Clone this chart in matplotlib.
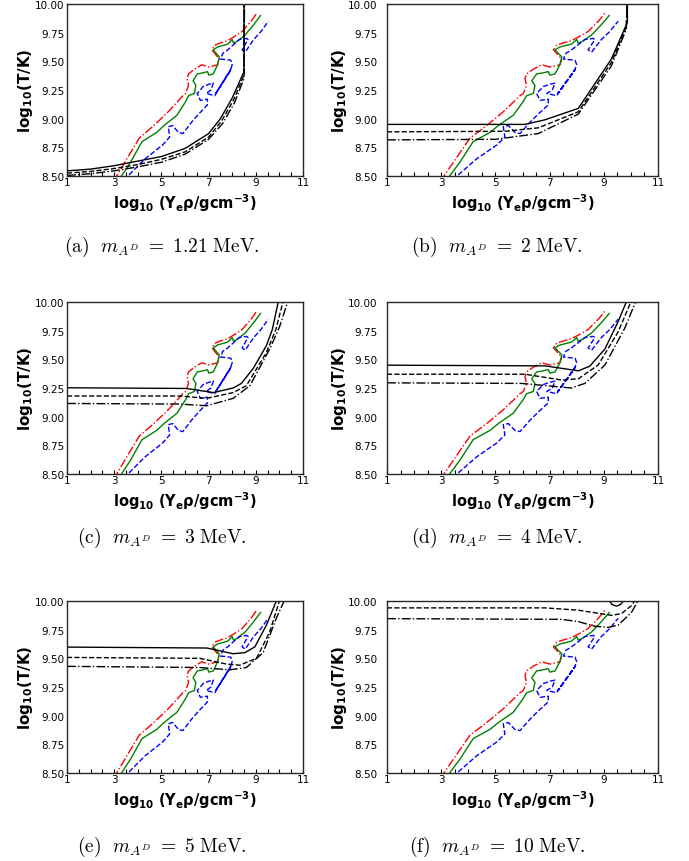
import numpy as np
import matplotlib
matplotlib.use('Agg')
import matplotlib.pyplot as plt

# stellar trajectories (same in every panel)
red_x = [2.96, 3.45, 4.06, 4.68, 5.29, 5.91, 6.03, 6.15, 6.09, 6.15, 6.39, 6.71, 7.01, 7.38, 7.45, 7.14, 7.26, 7.5, 7.8, 8.05, 8.42, 8.8, 9.04]
red_y = [8.45, 8.62, 8.83, 8.94, 9.06, 9.20, 9.22, 9.29, 9.35, 9.39, 9.43, 9.47, 9.45, 9.47, 9.52, 9.60, 9.64, 9.66, 9.68, 9.71, 9.76, 9.85, 9.92]

green_x = [3.15, 3.69, 4.18, 4.80, 5.11, 5.66, 6.03, 6.15, 6.40, 6.46, 6.34, 6.52, 6.77, 6.95, 7.01, 7.2, 7.38, 7.45, 7.32, 7.2, 7.38, 7.81, 8.0, 8.05, 8.18, 8.55, 8.91, 9.2]
green_y = [8.45, 8.62, 8.80, 8.88, 8.94, 9.03, 9.15, 9.20, 9.22, 9.29, 9.33, 9.39, 9.40, 9.41, 9.38, 9.39, 9.47, 9.54, 9.57, 9.60, 9.625, 9.65, 9.69, 9.66, 9.67, 9.73, 9.82, 9.90]

blue_x = [3.63, 4.31, 5.05, 5.35, 5.29, 5.48, 5.72, 5.91, 6.28, 6.58, 6.95, 6.95, 6.65, 6.52, 6.77, 7.01, 7.2, 7.1, 6.9, 7.26, 7.94, 7.3, 7.9, 8.0, 7.94, 7.51, 7.6, 7.81, 8.3, 8.61, 8.67, 8.42, 8.55, 8.91, 9.22, 9.53]
blue_y = [8.51, 8.65, 8.77, 8.84, 8.93, 8.94, 8.88, 8.87, 8.97, 9.04, 9.12, 9.17, 9.16, 9.22, 9.28, 9.30, 9.31, 9.25, 9.22, 9.20, 9.43, 9.22, 9.41, 9.47, 9.51, 9.52, 9.57, 9.60, 9.69, 9.70, 9.69, 9.60, 9.58, 9.69, 9.76, 9.85]

# black curves, one set per panel
a_solid_x = [1, 2, 3, 4, 5, 6, 7, 7.5, 8, 8.5, 8.5]
a_solid_y = [8.545, 8.56, 8.59, 8.63, 8.67, 8.74, 8.87, 9.0, 9.18, 9.41, 10.0]
a_dash_x = [1, 2, 3, 4, 5, 6, 7, 7.55, 8.05, 8.5, 8.51]
a_dash_y = [8.525, 8.54, 8.565, 8.60, 8.645, 8.71, 8.84, 8.98, 9.16, 9.38, 10.0]
a_dd_x = [1, 2, 3, 4, 5, 6, 7, 7.6, 8.1, 8.5, 8.52]
a_dd_y = [8.505, 8.52, 8.545, 8.58, 8.62, 8.69, 8.82, 8.96, 9.14, 9.35, 10.0]

b_solid_x = [1, 6.09, 6.83, 8.06, 9.28, 9.87, 9.87]
b_solid_y = [8.95, 8.95, 8.99, 9.09, 9.52, 9.84, 10.0]
b_dash_x = [1, 5.36, 6.58, 8.06, 9.28, 9.83, 9.86]
b_dash_y = [8.885, 8.89, 8.92, 9.06, 9.49, 9.80, 10.0]
b_dd_x = [1, 5.0, 6.58, 8.06, 9.28, 9.83, 9.86]
b_dd_y = [8.815, 8.82, 8.87, 9.04, 9.46, 9.78, 10.0]

c_solid_x = [1, 6.07, 7.2, 8.04, 8.39, 8.89, 9.45, 9.7, 9.95]
c_solid_y = [9.252, 9.246, 9.21, 9.25, 9.29, 9.42, 9.62, 9.76, 10.0]
c_dash_x = [1, 5.79, 6.92, 8.04, 8.6, 9.45, 9.85, 10.15]
c_dash_y = [9.18, 9.18, 9.16, 9.21, 9.27, 9.56, 9.76, 10.0]
c_dd_x = [1, 5.79, 6.92, 8.04, 8.75, 9.59, 10.0, 10.35]
c_dd_y = [9.115, 9.11, 9.095, 9.16, 9.27, 9.59, 9.78, 10.0]

d_solid_x = [1, 6.83, 8.06, 8.48, 9.04, 9.53, 9.83]
d_solid_y = [9.449, 9.443, 9.40, 9.44, 9.59, 9.83, 10.0]
d_dash_x = [1, 6.09, 7.44, 8.06, 8.79, 9.53, 10.0]
d_dash_y = [9.37, 9.37, 9.32, 9.33, 9.45, 9.74, 10.0]
d_dd_x = [1, 5.97, 7.8, 8.3, 9.04, 9.77, 10.17]
d_dd_y = [9.295, 9.29, 9.25, 9.29, 9.45, 9.77, 10.0]

e_solid_x = [1, 6.92, 7.2, 8.04, 8.54, 8.96, 9.45, 9.87]
e_solid_y = [9.598, 9.59, 9.578, 9.54, 9.55, 9.60, 9.79, 10.0]
e_dash_x = [1, 6.63, 7.76, 8.32, 9.03, 9.59, 10.0]
e_dash_y = [9.508, 9.50, 9.45, 9.44, 9.50, 9.73, 10.0]
e_dd_x = [1, 6.63, 7.9, 8.6, 9.31, 9.87, 10.2]
e_dd_y = [9.43, 9.42, 9.40, 9.42, 9.55, 9.85, 10.0]

f_solid_x = [9.15, 9.3, 9.47, 9.62, 9.78]
f_solid_y = [10.02, 9.97, 9.955, 9.97, 10.02]
f_dash_x = [1, 6.83, 8.06, 9.28, 9.65, 10.02, 10.14]
f_dash_y = [9.94, 9.94, 9.92, 9.875, 9.89, 9.96, 10.0]
f_dd_x = [1, 7.44, 8.06, 8.67, 9.16, 9.53, 10.02, 10.26]
f_dd_y = [9.846, 9.84, 9.82, 9.78, 9.77, 9.79, 9.90, 10.0]

labels = ['(a)', '(b)', '(c)', '(d)', '(e)', '(f)']
masses = ['1.21', '2', '3', '4', '5', '10']
blacks = [
    (a_solid_x, a_solid_y, a_dash_x, a_dash_y, a_dd_x, a_dd_y),
    (b_solid_x, b_solid_y, b_dash_x, b_dash_y, b_dd_x, b_dd_y),
    (c_solid_x, c_solid_y, c_dash_x, c_dash_y, c_dd_x, c_dd_y),
    (d_solid_x, d_solid_y, d_dash_x, d_dash_y, d_dd_x, d_dd_y),
    (e_solid_x, e_solid_y, e_dash_x, e_dash_y, e_dd_x, e_dd_y),
    (f_solid_x, f_solid_y, f_dash_x, f_dash_y, f_dd_x, f_dd_y),
]

W, H = 689, 862
fig = plt.figure(figsize=(W / 100, H / 100), dpi=100)

col_left = [67, 387]
col_width = [236, 271]
row_top = [5, 303, 602]
row_h = 172
cap_x = [162, 497]
cap_y = [247, 538, 847]
tick_pad = [2, 7]
ylab_x = [-0.174, -0.177]

for i in range(6):
    r, c = i // 2, i % 2
    ax = fig.add_axes([col_left[c] / W, 1 - (row_top[r] + row_h) / H,
                       col_width[c] / W, row_h / H])
    ax.plot(red_x, red_y, color='red', ls='-.', lw=1)
    ax.plot(green_x, green_y, color='green', ls='-', lw=1)
    ax.plot(blue_x, blue_y, color='blue', ls='--', lw=1)
    sx, sy, dx, dy, ddx, ddy = blacks[i]
    ax.plot(sx, sy, 'k-', lw=1)
    ax.plot(dx, dy, 'k--', lw=1)
    ax.plot(ddx, ddy, 'k-.', lw=1)

    ax.set_xlim(1, 11)
    ax.set_ylim(8.5, 10.0)
    ax.set_xticks([1, 3, 5, 7, 9, 11])
    ax.set_xticks(np.arange(1, 11.01, 0.5), minor=True)
    ax.set_yticks([8.5, 8.75, 9.0, 9.25, 9.5, 9.75, 10.0])
    ax.set_yticklabels(['8.50', '8.75', '9.00', '9.25', '9.50', '9.75', '10.00'])
    ax.tick_params(axis='x', which='both', direction='in', length=3, width=0.8,
                   pad=1, labelsize=7.5)
    ax.tick_params(axis='y', which='both', length=0, pad=tick_pad[c], labelsize=7.5)
    for sp in ax.spines.values():
        sp.set_linewidth(1.0)
        sp.set_color('0.15')

    ax.set_xlabel(r'$\mathbf{log_{10}\ (Y_e\rho/gcm^{-3})}$', fontsize=10.5, labelpad=3)
    ax.set_ylabel(r'$\mathbf{log_{10}(T/K)}$', fontsize=11, va='center')
    ax.yaxis.set_label_coords(ylab_x[c], 0.5)

    fig.text(cap_x[c] / W, 1 - cap_y[r] / H,
             r'$\mathrm{' + labels[i] + r'}\ \ m_{A^D}\ =\ \mathrm{' + masses[i] + r'\ MeV.}$',
             math_fontfamily='cm', fontsize=14, ha='center', va='center')

fig.savefig('out.png', dpi=100)
